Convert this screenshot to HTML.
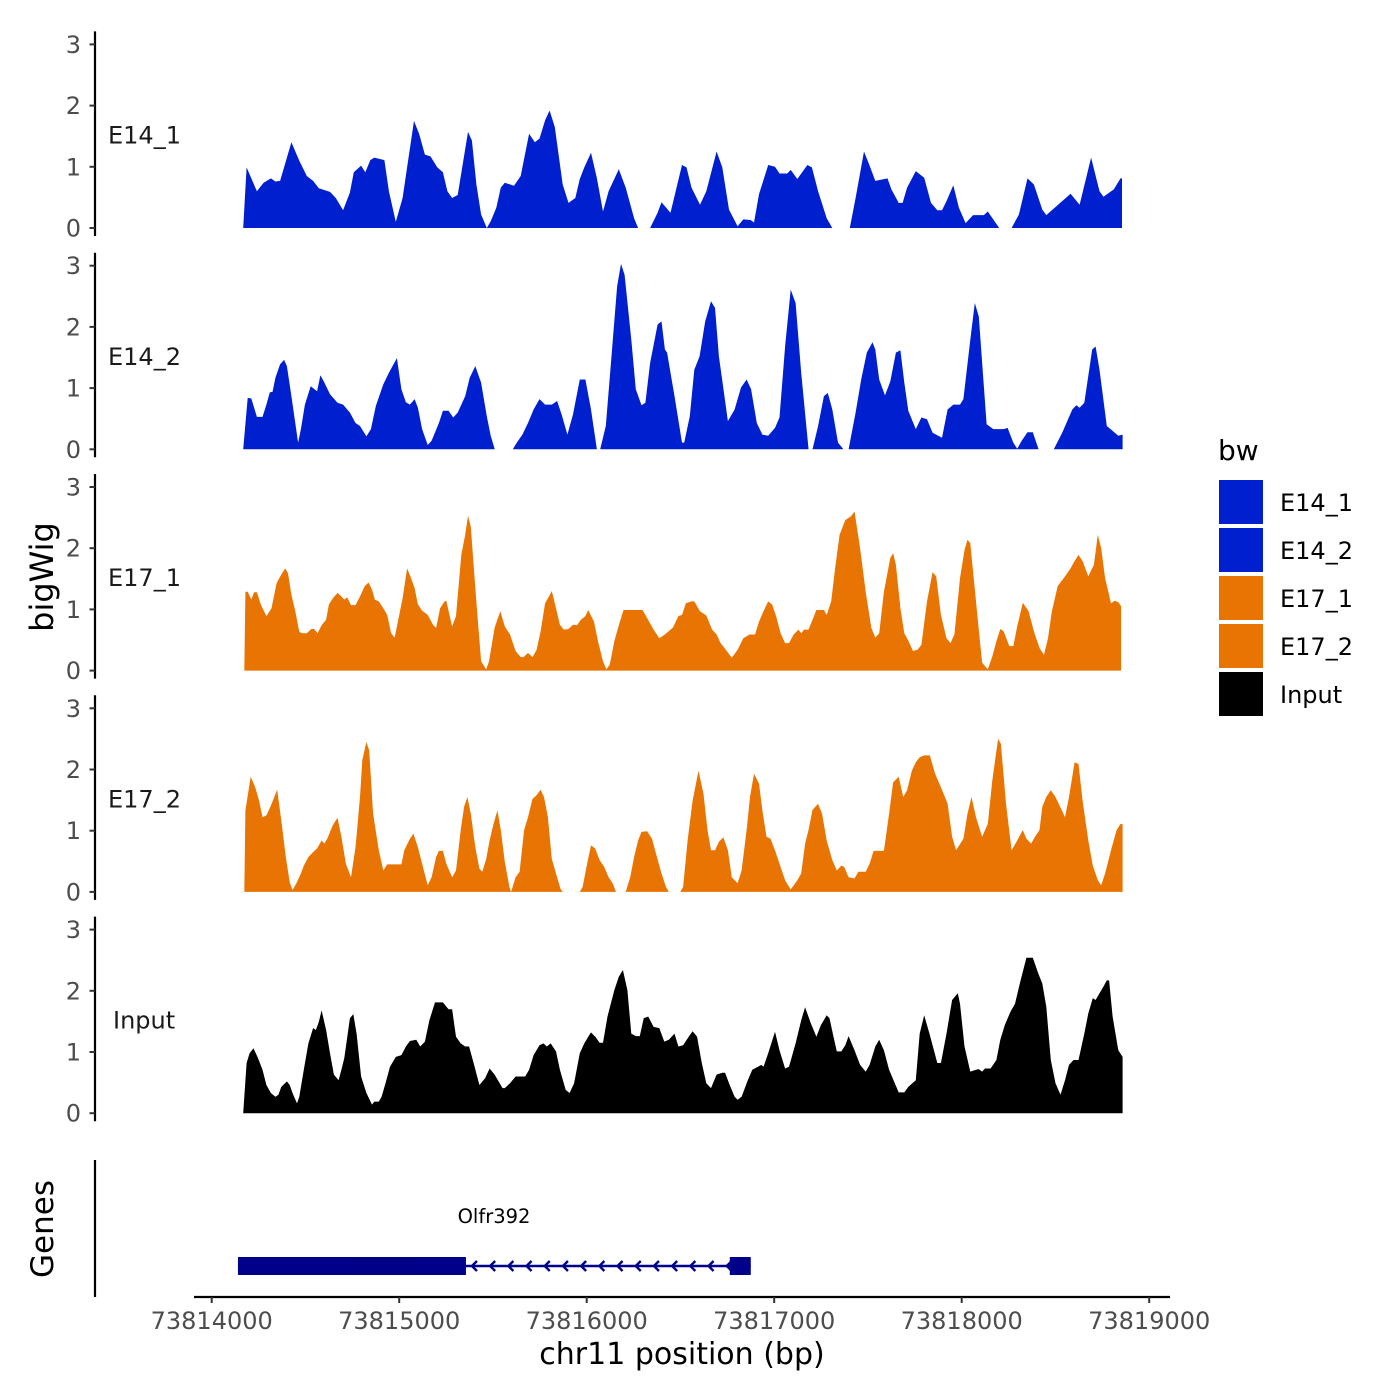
<!DOCTYPE html>
<html><head><meta charset="utf-8">
<style>
html,body{margin:0;padding:0;background:#fff;}
svg{display:block;font-family:"DejaVu Sans","Liberation Sans",sans-serif;}
</style></head>
<body>
<svg id="chart" width="1400" height="1400" viewBox="0 0 1400 1400" xmlns="http://www.w3.org/2000/svg">
  <g id="tracks"></g>
  <g id="axes"></g>
  <g id="genes"></g>
  <text x="0" y="0" transform="translate(53,577) rotate(-90)" text-anchor="middle" font-size="32" fill="#000">bigWig</text>
  <text x="0" y="0" transform="translate(53,1229) rotate(-90)" text-anchor="middle" font-size="31" fill="#000">Genes</text>
  <text x="682" y="1364" text-anchor="middle" font-size="30" fill="#000">chr11 position (bp)</text>
  <g id="legend"></g>
</svg>
<script>
// ---- data ----
const regionStart = 73814000;
const xTicks = [73814000, 73815000, 73816000, 73817000, 73818000, 73819000];
const yTicks = [0, 1, 2, 3];
const trackNames = ["E14_1", "E14_2", "E17_1", "E17_2", "Input"];
const trackColors = ["#0020CF", "#0020CF", "#E87503", "#E87503", "#000000"];

const e14_1_off = [168,186,241,277,316,340,365,425,467,507,541,571,631,662,701,737,758,797,819,846,867,921,945,982,1018,1042,1079,1106,1137,1167,1203,1233,1257,1282,1312,1367,1388,1412,1437,1467,1488,1518,1542,1563,1612,1648,1693,1723,1748,1778,1802,1830,1872,1903,1939,1963,1987,2023,2054,2087,2117,2171,2208,2253,2274,null,
2338,2378,2399,2447,2483,2508,2532,2559,2604,2638,2693,2723,2759,2805,2835,2874,2892,2919,2968,3004,3028,3070,3088,3123,3177,3201,3234,3280,3310,null,
3403,3434,3479,3509,3539,3604,3625,3664,3685,3709,3755,3800,3836,3870,3895,3919,3955,3985,4021,4061,4118,4139,4200,null,
4266,4305,4351,4385,4430,4451,4536,4581,4629,4690,4735,4756,4811,4847,4855];
const e14_1_val = [0,.99,.60,.74,.81,.76,.77,1.40,1.10,.85,.77,.65,.59,.49,.29,.58,.91,1.02,.91,1.11,1.15,1.11,.60,.10,.49,.99,1.75,1.54,1.20,1.17,.99,.91,.60,.49,.54,1.57,1.43,.71,.22,0,.11,.33,.66,.74,.69,.85,1.54,1.40,1.46,1.76,1.92,1.65,.71,.41,.49,.80,.99,1.23,.82,.27,.60,.96,.66,.16,0,null,
0,.25,.42,.25,.71,1.03,.99,.66,.38,.60,1.25,.99,.30,.03,.14,.13,.09,.55,1.03,1.0,.89,.89,.95,.80,1.03,.99,.60,.16,0,null,
0,.49,1.25,1.02,.77,.81,.63,.41,.41,.66,.93,.82,.41,.29,.29,.44,.70,.33,.08,.21,.21,.27,0,null,
0,.22,.81,.71,.30,.21,.44,.56,.38,1.15,.60,.51,.63,.81,.81];

const e14_2_off = [168,192,211,241,271,292,310,325,340,365,386,401,425,461,476,497,528,562,580,601,631,671,701,737,767,791,825,849,876,915,945,988,1012,1036,1057,1082,1100,1122,1152,1173,1212,1233,1263,1288,1312,1352,1376,1406,1437,1467,1488,1509,null,
1606,1627,1657,1687,1717,1748,1778,1814,1842,1866,1897,1927,1963,1993,2023,2054,null,
2072,2102,2132,2162,2183,2202,2238,2262,2292,2313,2338,2378,2399,2417,2429,2447,2468,2508,2520,2550,2574,2602,2632,2663,2684,2705,2753,2789,2823,2853,2877,2907,2937,2968,3004,3028,3058,3088,3114,3144,3183,null,
3204,3234,3265,3286,3310,3340,3367,null,
3397,3434,3464,3494,3524,3539,3560,3591,3619,3649,3673,3694,3715,3755,3785,3815,3845,3895,3925,3955,3991,4009,4046,4070,4091,4133,4169,4224,4245,4275,4296,4320,4351,4379,4409,null,
4491,4536,4590,4611,4629,4654,4696,4714,4735,4774,4805,4835,4858];
const e14_2_val = [0,.84,.83,.53,.53,.73,.93,.94,1.17,1.39,1.46,1.36,.87,.11,.33,.73,1.03,.95,1.21,1.09,.90,.76,.73,.60,.43,.38,.21,.33,.71,1.06,1.25,1.49,.98,.77,.73,.82,.68,.33,.07,.14,.43,.63,.63,.52,.60,.87,1.17,1.36,1.09,.54,.22,.01,null,
0,.11,.24,.43,.65,.82,.73,.73,.79,.57,.24,.57,1.14,1.14,.65,.01,null,
0,.38,1.52,2.66,3.03,2.85,1.79,.98,.72,.76,1.41,2.04,2.09,1.63,1.58,1.25,.87,.11,.11,.54,1.30,1.52,2.09,2.42,2.31,1.52,.46,.65,1.01,1.14,.98,.43,.24,.22,.35,.52,1.68,2.61,2.39,1.25,.01,null,
0,.38,.87,.92,.65,.11,.01,null,
0,.60,1.14,1.58,1.75,1.63,1.14,.88,1.11,1.58,1.62,1.09,.63,.33,.52,.49,.27,.19,.65,.73,.73,.82,1.79,2.39,2.17,.41,.33,.33,.35,.11,.01,.14,.28,.28,.01,null,
0,.27,.65,.72,.68,.76,1.63,1.68,1.30,.38,.30,.22,.24];

const e17_1_off = [174,180,192,211,226,241,262,292,319,346,371,392,407,425,446,467,485,507,531,546,565,586,610,625,646,671,692,707,722,743,767,791,816,837,855,870,891,915,936,957,976,997,1018,1042,1060,1082,1100,1122,1152,1182,1197,1218,1242,1251,1282,1303,1331,1352,1367,1382,1406,1437,1464,1479,1509,1539,1563,1591,1621,1648,1663,1687,1711,1733,1754,1778,1802,1814,1836,1857,1878,1903,1927,1948,1969,1993,2008,2039,2060,2087,2105,2123,2147,2177,2196,2298,2322,2357,2387,2417,2459,2489,2508,2529,2559,2574,2604,2638,2669,2693,2714,2735,2774,2805,2835,2868,2898,2919,2943,2968,2989,3010,3034,3058,3079,3104,3129,3144,3159,3183,3204,3225,3265,3280,3304,3325,3349,3379,3409,3428,3458,3488,3518,3539,3560,3585,3619,3634,3649,3673,3694,3715,3740,3764,3785,3815,3845,3864,3889,3919,3940,3961,3991,4015,4031,4046,4076,4109,4139,4163,4185,4206,4224,4254,4275,4296,4326,4357,4385,4415,4439,4460,4481,4512,4551,4581,4596,4623,4645,4675,4705,4726,4744,4765,4796,4817,4835,4850];
const e17_1_val = [0,1.29,1.29,1.16,1.28,1.28,1.08,.89,1.02,1.43,1.57,1.67,1.59,1.24,.97,.63,.61,.61,.68,.68,.61,.74,.83,1.08,1.18,1.27,1.21,1.16,1.20,1.07,1.07,1.21,1.38,1.44,1.32,1.16,1.13,1.02,.91,.61,.54,.86,1.18,1.67,1.54,1.35,1.08,.98,.91,.74,.70,1.02,1.13,1.14,.72,.89,1.89,2.22,2.53,2.35,1.35,.15,.02,.15,.70,.97,.72,.59,.32,.22,.22,.29,.22,.34,.64,1.10,1.23,1.30,1.02,.75,.67,.68,.75,.74,.83,.89,.99,.80,.48,.15,.02,.10,.48,.80,.99,.99,.86,.67,.53,.59,.70,.89,.91,1.10,1.13,1.13,.97,.90,.67,.59,.45,.37,.21,.34,.53,.59,.59,.80,.97,1.13,1.08,.89,.61,.45,.45,.59,.67,.61,.67,.67,.83,.99,.99,.91,1.13,1.67,2.22,2.46,2.52,2.60,2.00,1.29,.70,.54,.61,1.29,1.84,1.92,1.73,1.02,.61,.49,.32,.34,.42,1.13,1.61,1.54,.91,.53,.45,.59,1.51,1.97,2.14,2.08,1.13,.13,.02,.23,.48,.68,.64,.40,.40,.72,1.11,.97,.64,.37,.26,.53,.97,1.38,1.54,1.67,1.76,1.89,1.79,1.54,1.73,2.22,2.00,1.51,1.10,1.14,1.12,1.05];

const e17_2_off = [174,180,208,232,253,271,292,316,334,349,371,395,416,431,452,476,491,516,541,562,586,601,616,646,671,692,716,743,767,791,803,825,840,861,891,915,936,1012,1027,1057,1076,1100,1122,1152,1173,1197,1212,1233,1251,1282,1303,1328,1346,1364,1382,1406,1428,1443,1464,1482,1503,1524,1542,1563,1588,1597,1621,1642,1666,1687,1711,1733,1754,1772,1793,1814,1842,1860,1872,null,
1963,1978,2002,2023,2045,2069,2093,2117,2138,2156,null,
2208,2232,2253,2274,2292,2322,2348,2369,2399,2423,2438,null,
2499,2514,2538,2565,2596,2623,2644,2663,2684,2705,2729,2753,2774,2805,2826,2853,2871,2892,2919,2937,2959,2980,3004,3028,3058,3088,3123,3144,3165,3183,3204,3234,3255,3280,3310,3334,3358,3373,3397,3428,3449,3488,3509,3530,3585,3613,3634,3664,3688,3709,3734,3755,3776,3800,3830,3858,3889,3925,3949,3970,4009,4031,4052,4076,4109,4139,4163,4194,4209,4236,4266,4296,4326,4345,4370,4391,4415,4430,4451,4475,4500,4530,4551,4572,4602,4623,4645,4675,4699,4726,4744,4765,4796,4826,4847,4858];
const e17_2_val = [0,1.33,1.88,1.71,1.49,1.22,1.25,1.41,1.55,1.67,1.17,.57,.16,.03,.14,.30,.43,.57,.65,.71,.84,.79,.87,1.09,1.21,.90,.46,.24,.73,1.55,2.15,2.45,2.31,1.28,.68,.35,.45,.45,.68,.87,.95,.73,.46,.11,.24,.57,.67,.67,.46,.24,.35,1.01,1.39,1.55,1.28,.73,.38,.33,.54,.84,1.11,1.33,1.01,.49,.08,0,.24,.33,1.01,1.22,1.52,1.58,1.67,1.55,1.22,.54,.24,.05,0,null,
0,.08,.46,.76,.71,.52,.41,.24,.14,0,null,
0,.24,.57,.84,.98,.99,.87,.63,.30,.08,0,null,
0,.08,.84,1.49,1.98,1.60,1.01,.68,.68,.82,.89,.68,.24,.14,.35,1.01,1.55,1.93,1.77,1.33,.90,.87,.68,.46,.19,.04,.19,.30,.79,1.01,1.34,1.44,1.28,.84,.52,.35,.43,.41,.24,.22,.33,.33,.46,.67,.67,1.28,1.79,1.88,1.55,1.66,1.98,2.12,2.20,2.23,2.23,1.93,1.71,1.44,.90,.68,.87,1.28,1.55,1.22,.90,1.11,1.82,2.50,2.42,1.44,.68,.84,1.01,.87,.79,.90,1.01,1.39,1.55,1.66,1.55,1.36,1.22,1.55,2.12,2.09,1.49,.84,.43,.19,.11,.30,.68,1.01,1.11,1.11];

const input_off = [168,186,202,223,247,271,292,316,340,356,371,401,416,431,455,467,491,516,541,556,571,586,610,631,652,677,692,707,737,755,773,797,825,855,867,891,906,927,951,982,1012,1036,1057,1091,1112,1137,1161,1191,1233,1263,1282,1303,1328,1352,1373,1397,1428,1458,1482,1509,1536,1551,1563,1591,1621,1672,1693,1717,1748,1769,1787,1808,1836,1857,1888,1909,1933,1963,1987,2008,2023,2048,2069,2087,2111,2147,2171,2193,2217,2238,2262,2283,2304,2328,2357,2387,2414,2438,2468,2489,2514,2544,2565,2589,2614,2638,2663,2693,2723,2738,2759,2789,2805,2826,2859,2883,2913,2931,2943,2968,3004,3028,3058,3079,3114,3144,3165,3195,3225,3249,3280,3295,3316,3334,3358,3379,3397,3428,3458,3488,3509,3539,3560,3585,3613,3643,3664,3694,3715,3755,3776,3800,3830,3870,3889,3919,3949,3979,3991,4015,4046,4076,4091,4109,4124,4154,4185,4206,4230,4260,4284,4314,4345,4379,4409,4430,4451,4475,4500,4527,4551,4572,4596,4623,4654,4675,4699,4714,4735,4756,4774,4786,4805,4835,4858];
const input_val = [0,.82,.98,1.06,.90,.71,.46,.33,.27,.30,.43,.52,.46,.33,.16,.27,.71,1.14,1.39,1.36,1.49,1.68,1.36,.98,.63,.54,.71,.90,1.55,1.62,1.30,.60,.33,.14,.19,.19,.27,.49,.76,.92,.95,1.09,1.18,1.20,1.09,1.17,1.52,1.81,1.81,1.70,1.70,1.25,1.14,1.09,1.09,.82,.46,.57,.73,.63,.49,.41,.41,.49,.60,.60,.71,.95,1.11,1.14,1.09,1.14,1.01,.71,.38,.33,.49,.98,1.14,1.25,1.32,1.24,1.15,1.15,1.58,2.01,2.23,2.34,2.01,1.30,1.26,1.26,1.55,1.58,1.41,1.39,1.17,1.20,1.30,1.09,1.11,1.25,1.34,1.25,.82,.49,.41,.63,.66,.66,.49,.27,.22,.27,.54,.71,.76,.79,.76,.98,1.33,1.03,.73,.76,1.14,1.52,1.73,1.47,1.25,1.44,1.60,1.55,1.25,1.01,1.01,1.11,1.26,1.03,.79,.68,.79,1.09,1.20,1.03,.71,.49,.34,.34,.43,.54,1.30,1.60,1.28,.82,.82,1.30,1.85,1.96,1.79,1.09,.68,.71,.72,.68,.73,.73,.87,1.20,1.44,1.66,1.79,2.17,2.54,2.54,2.28,2.12,1.74,.87,.49,.30,.54,.79,.87,.87,1.30,1.63,1.88,1.85,1.96,2.07,2.17,2.17,1.58,1.03,.92];

const trackOffsets = [e14_1_off, e14_2_off, e17_1_off, e17_2_off, input_off];
const trackValues = [e14_1_val, e14_2_val, e17_1_val, e17_2_val, input_val];

// gene model (bp)
const geneName = "Olfr392";
const geneStart = 73814140;
const geneEnd = 73816875;
const exonStarts = [73814140, 73816763];
const exonEnds = [73815356, 73816875];
const cdsStart = 73814737;
const cdsEnd = 73815091;

// ---- scales ----
const NS = "http://www.w3.org/2000/svg";
const X0 = 211.7, PXPERBP = 0.1875;
function xScale(bp){ return X0 + (bp - regionStart) * PXPERBP; }
const UNIT = 61.2, PANEL_STEP = 221.3, BASE0 = 228;
function yScale(track, v){ return BASE0 + track * PANEL_STEP - v * UNIT; }
function mk(tag, attrs, parent){ const e = document.createElementNS(NS, tag); for (const k in attrs) e.setAttribute(k, attrs[k]); parent.appendChild(e); return e; }

const tracksG = document.getElementById('tracks');
const axesG = document.getElementById('axes');

for (let t = 0; t < trackNames.length; t++){
  const offs = trackOffsets[t], vals = trackValues[t];
  const base = yScale(t, 0);
  let segs = [], cur = [];
  for (let i = 0; i < offs.length; i++){
    if (offs[i] === null || vals[i] === null){ if (cur.length) segs.push(cur); cur = []; continue; }
    cur.push([xScale(regionStart + offs[i]), yScale(t, vals[i])]);
  }
  if (cur.length) segs.push(cur);
  segs.forEach((s) => {
    let d = 'M' + s[0][0].toFixed(1) + ',' + base.toFixed(1);
    s.forEach(p => { d += 'L' + p[0].toFixed(1) + ',' + p[1].toFixed(1); });
    d += 'L' + s[s.length-1][0].toFixed(1) + ',' + base.toFixed(1) + 'Z';
    const p = mk('path', {d: d, fill: trackColors[t]}, tracksG);
    
    
  });
  const ax = mk('line', {x1: 95, x2: 95, y1: yScale(t, 3) - 13, y2: base + 8, stroke: '#000', 'stroke-width': 2.2}, axesG);
  
  
  yTicks.forEach(v => {
    const y = yScale(t, v);
    const tk = mk('line', {x1: 89.5, x2: 95, y1: y, y2: y, stroke: '#333', 'stroke-width': 2}, axesG);
    
    
    const tl = mk('text', {x: 81, y: y + 8.5, 'text-anchor': 'end', 'font-size': 24, fill: '#4d4d4d'}, axesG);
    tl.textContent = v;
    
    
  });
  const lbl = mk('text', {x: t === 4 ? 113 : 108, y: yScale(t, 1.52) + 8.5, 'font-size': 24, fill: '#1a1a1a'}, axesG);
  lbl.textContent = trackNames[t];
  
  
}

const gAx = mk('line', {x1: 95, x2: 95, y1: 1160, y2: 1297, stroke: '#000', 'stroke-width': 2.2}, axesG);


const xAx = mk('line', {x1: 194, x2: 1170, y1: 1297, y2: 1297, stroke: '#000', 'stroke-width': 2.2}, axesG);


xTicks.forEach(v => {
  const x = xScale(v);
  const tk = mk('line', {x1: x, x2: x, y1: 1297, y2: 1303, stroke: '#333', 'stroke-width': 2}, axesG);
  
  
  const tl = mk('text', {x: x, y: 1329, 'text-anchor': 'middle', 'font-size': 24, fill: '#4d4d4d'}, axesG);
  tl.textContent = v;
  
  
});

const genesG = document.getElementById('genes');
const gy = 1266;
const intron = mk('line', {x1: xScale(geneStart), x2: xScale(geneEnd), y1: gy, y2: gy, stroke: '#00008B', 'stroke-width': 2.5}, genesG);


for (let x = xScale(exonEnds[0]) + 6; x < xScale(exonStarts[1]) - 3; x += 18.2){
  const a = mk('path', {d: `M${x+5},${gy-5}L${x},${gy}L${x+5},${gy+5}`, fill: 'none', stroke: '#00008B', 'stroke-width': 2.4}, genesG);
  
  
}
exonStarts.forEach((s, i) => {
  const r = mk('rect', {x: xScale(s), y: gy - 9, width: xScale(exonEnds[i]) - xScale(s), height: 18, fill: '#00008B'}, genesG);
  
  
});
const cds = mk('rect', {x: xScale(cdsStart), y: gy - 9, width: xScale(cdsEnd) - xScale(cdsStart), height: 18, fill: '#000088'}, genesG);


const gl = mk('text', {x: 494, y: 1223, 'text-anchor': 'middle', 'font-size': 19.5, fill: '#000'}, genesG);
gl.textContent = geneName;



const legG = document.getElementById('legend');
const lt = mk('text', {x: 1218, y: 460, 'font-size': 28, fill: '#000'}, legG);
lt.textContent = 'bw';


trackNames.forEach((n, i) => {
  const y = 480 + i * 48;
  const r = mk('rect', {x: 1219, y: y, width: 44, height: 44, fill: trackColors[i]}, legG);
  
  
  const t = mk('text', {x: 1280, y: y + 31, 'font-size': 24, fill: '#000'}, legG);
  t.textContent = n;
  
  
});
</script>
</body></html>
